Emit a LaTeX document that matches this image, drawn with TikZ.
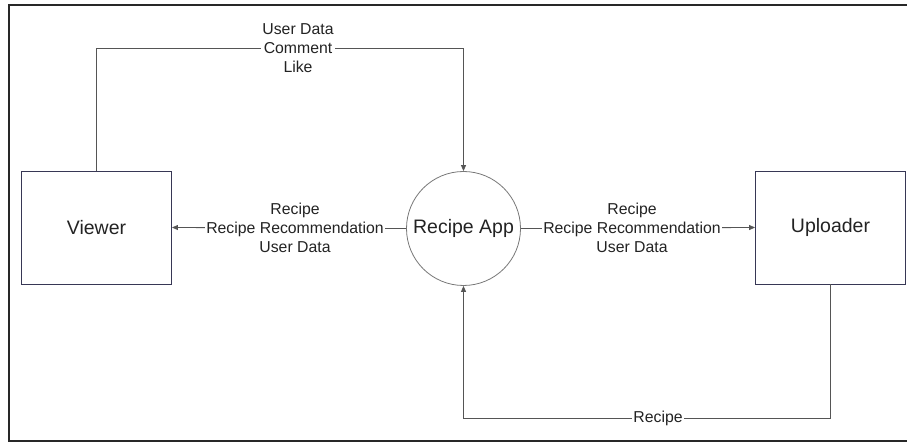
\documentclass[tikz,border=0pt]{standalone}
\usepackage{fontspec}
\setmainfont{Liberation Sans}
\usetikzlibrary{arrows.meta}
\definecolor{boxline}{RGB}{55,55,85}
\definecolor{conline}{RGB}{85,85,85}
\definecolor{circline}{RGB}{120,120,120}
\definecolor{framecol}{RGB}{40,40,40}
\definecolor{txt}{RGB}{35,35,35}
\tikzset{
  entity/.style={draw=boxline, line width=0.9pt, rectangle, minimum width=150pt, minimum height=113pt, inner sep=0pt, font=\fontsize{19.5}{23}\selectfont, text=txt},
  proc/.style={draw=circline, line width=0.8pt, circle, minimum size=114pt, inner sep=0pt, font=\fontsize{19.5}{23}\selectfont, text=txt},
  flow/.style={draw=conline, line width=0.8pt},
  flowarrow/.style={flow, -{Triangle[length=6pt,width=5pt]}},
  flowlabel/.style={fill=white, inner xsep=1pt, inner ysep=0pt, align=center, font=\fontsize{15.8}{19}\selectfont, text=txt}
}
\begin{document}
\begin{tikzpicture}[x=1pt,y=-1pt]
\useasboundingbox (0,0) rectangle (907,443);
\fill[white] (0,0) rectangle (907,443);
\draw[framecol, line width=2pt] (910,5) -- (9,5) -- (9,441) -- (910,441);

\node[entity] (viewer) at (96.5,227.5) {Viewer};
\node[entity] (uploader) at (830.5,227.5) {Uploader};
\node[proc] (app) at (463.5,228.5) {Recipe App};

\coordinate (tl) at (96.5,48);
\coordinate (tr) at (463.5,48);
\coordinate (br) at (830.5,418);
\coordinate (bl) at (463.5,418);

\draw[flowarrow] (viewer.north) -- (tl) -- (tr) -- (app.north);
\draw[flowarrow] (app.west) -- (viewer.east);
\draw[flowarrow] (app.east) -- (uploader.west);
\draw[flowarrow] (uploader.south) -- (br) -- (bl) -- (app.south);

\node[flowlabel] (ltop) at (298,48) {User Data\\Comment\\Like};
\node[flowlabel] (lleft) at (295,228) {Recipe\\Recipe Recommendation\\User Data};
\node[flowlabel] (lright) at (632,228) {Recipe\\Recipe Recommendation\\User Data};
\node[flowlabel] (lbottom) at (658,418) {Recipe};
\end{tikzpicture}
\end{document}
